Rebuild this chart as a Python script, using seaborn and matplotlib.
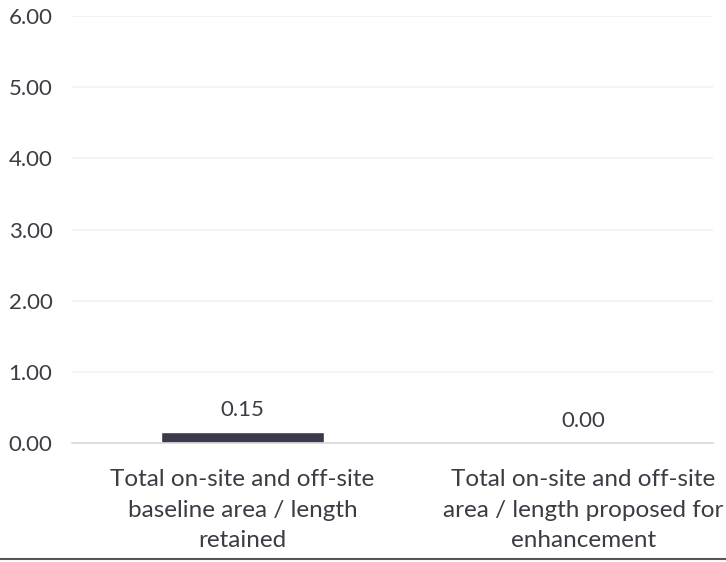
import matplotlib
matplotlib.use("Agg")
import matplotlib.pyplot as plt
from matplotlib.lines import Line2D
import seaborn as sns
import pandas as pd

categories = [
    "Total on-site and off-site\nbaseline area / length\nretained",
    "Total on-site and off-site\narea / length proposed for\nenhancement",
]
values = [0.15, 0.00]
y_ticks = [0, 1, 2, 3, 4, 5, 6]

sns.set_style("white")
plt.rcParams["font.family"] = ["Lato", "DejaVu Sans"]

text_color = "#3c3c44"
bar_color = "#3a3a4c"
grid_color = "#eef2f2"
axis_color = "#d9d9d9"

df = pd.DataFrame({"category": categories, "value": values})

fig = plt.figure(figsize=(7.26, 5.62), dpi=100)
ax = fig.add_axes([0.0992, 0.2117, 0.8828, 0.7598])

sns.barplot(data=df, x="category", y="value", color=bar_color,
            width=0.48, saturation=1, ax=ax)

# boundary ticks first, then limits (set_xticks can widen the view)
ax.set_xticks([-0.5, 0.5, 1.5], minor=True)
ax.set_ylim(0, 6)
ax.set_xlim(-0.5, 1.38)
ax.set_yticks(y_ticks)
ax.set_yticklabels([f"{v:.2f}" for v in y_ticks])
ax.yaxis.grid(True, color=grid_color, linewidth=1.2)
ax.set_axisbelow(True)

for s in ["top", "right", "left"]:
    ax.spines[s].set_visible(False)
ax.spines["bottom"].set_color(axis_color)
ax.spines["bottom"].set_linewidth(1.2)

ax.set_xlabel("")
ax.set_ylabel("")
ax.tick_params(axis="y", length=0, pad=14, labelsize=16, labelcolor=text_color)
ax.tick_params(axis="x", which="major", length=0, pad=19, labelsize=17.5,
               labelcolor=text_color)
ax.tick_params(axis="x", which="minor", length=5, color=axis_color, width=1.2)
for lab in ax.get_xticklabels():
    lab.set_linespacing(1.55)

for i, v in enumerate(values):
    ax.annotate(f"{v:.2f}", (i, v), xytext=(0, 9), textcoords="offset points",
                ha="center", va="bottom", fontsize=16, color=text_color)

fig.add_artist(Line2D([0, 1], [0.006, 0.006], transform=fig.transFigure,
                      color="#555555", linewidth=1.5))

fig.savefig("out.png", dpi=100)
